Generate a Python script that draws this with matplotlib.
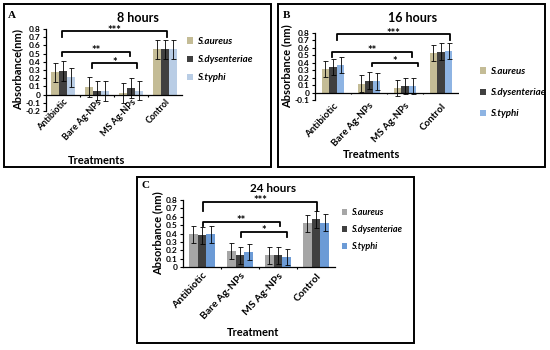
import matplotlib
matplotlib.use("Agg")
import matplotlib.pyplot as plt
from matplotlib.patches import Rectangle, Patch
import numpy as np

plt.rcParams['font.family'] = ['Lato', 'DejaVu Sans']

categories = ["Antibiotic", "Bare Ag-NPs", "MS Ag-NPs", "Control"]
series = ["S.aureus", "S.dysenteriae", "S.typhi"]

# 8 hours
a_aureus = [0.27, 0.09, 0.02, 0.55]
a_dys = [0.29, 0.05, 0.08, 0.55]
a_typhi = [0.21, 0.04, 0.05, 0.55]
a_err = [0.12, 0.12, 0.12, 0.12]

# 16 hours
b_aureus = [0.32, 0.12, 0.06, 0.53]
b_dys = [0.34, 0.16, 0.09, 0.55]
b_typhi = [0.37, 0.15, 0.09, 0.56]
b_err = [0.11, 0.11, 0.11, 0.11]

# 24 hours
c_aureus = [0.39, 0.19, 0.14, 0.52]
c_dys = [0.38, 0.14, 0.14, 0.57]
c_typhi = [0.39, 0.18, 0.12, 0.53]
c_err = [0.10, 0.10, 0.10, 0.10]

# significance brackets: (x_start, x_end, y_top, y_drop, label)
a_brackets = [(-0.03, 3.06, 0.77, 0.70, "***"), (-0.03, 1.97, 0.52, 0.47, "**"), (0.85, 2.18, 0.38, 0.32, "*")]
b_brackets = [(0.11, 3.25, 0.78, 0.70, "***"), (-0.03, 2.19, 0.55, 0.48, "**"), (1.08, 2.36, 0.40, 0.35, "*")]
c_brackets = [(0.03, 3.03, 0.78, 0.67, "***"), (0.03, 2.05, 0.54, 0.49, "**"), (1.03, 2.24, 0.42, 0.36, "*")]

W, H = 550, 350
fig = plt.figure(figsize=(W / 100, H / 100), dpi=100)


def fx(x):
    return x / W


def fy(y):
    return 1 - y / H


def frame(l, t, r, b):
    fig.patches.append(Rectangle((fx(l), fy(b)), fx(r - l), (b - t) / H, transform=fig.transFigure,
                                 fill=False, edgecolor='black', linewidth=1.4))


def panel(l, t, r, b, ylim, data, err, colors, width, ylabel, brackets, xfs, labels_at_zero, xpad):
    ax = fig.add_axes([fx(l), fy(b), fx(r - l), (b - t) / H])
    for s in ['top', 'right']:
        ax.spines[s].set_visible(False)
    ax.spines['left'].set_linewidth(0.9)
    if labels_at_zero:
        ax.spines['bottom'].set_position(('data', 0))
        ax.spines['bottom'].set_linewidth(0.9)
    else:
        ax.spines['bottom'].set_visible(False)
        ax.axhline(0, color='black', linewidth=0.9)
    x = np.arange(len(categories))
    handles = []
    for i, (vals, c) in enumerate(zip(data, colors)):
        ax.bar(x + (i - 1) * width, vals, width, color=c, yerr=err,
               error_kw=dict(ecolor='black', elinewidth=0.6, capsize=1.8, capthick=0.6))
        handles.append(Patch(facecolor=c, label=series[i]))
    ax.set_xlim(-0.5, len(categories) - 0.5)
    ax.set_ylim(*ylim)
    ticks = np.round(np.arange(ylim[0], ylim[1] + 0.001, 0.1), 1)
    ax.set_yticks(ticks)
    ax.set_yticklabels([f"{v:g}" if v != 0 else "0" for v in ticks], fontsize=6, fontweight='bold')
    ax.set_xticks(x)
    ax.set_xticklabels(categories, rotation=47, ha='right', rotation_mode='anchor',
                       fontsize=xfs, fontweight='bold')
    ax.tick_params(axis='x', length=0, pad=xpad)
    ax.tick_params(axis='y', length=2.5, width=0.8, pad=1.5)
    ax.vlines(x[:-1] + 0.5, 0, -0.025, color='black', linewidth=0.8, clip_on=False)
    ax.set_ylabel(ylabel, fontsize=8, fontweight='bold', labelpad=2)
    for (x1, x2, yt, yd, lab) in brackets:
        ax.plot([x1, x1, x2, x2], [yd, yt, yt, yd], color='black', linewidth=1.3, clip_on=False)
        ax.annotate(lab, xy=((x1 + x2) / 2, yt), xytext=(0, -1.5), textcoords='offset points',
                    ha='center', va='baseline', fontsize=8, fontweight='bold', annotation_clip=False)
    ax.set_facecolor('none')
    return ax, handles


def legend(handles, x, y, size, spacing):
    fig.legend(handles=handles, loc='upper left', bbox_to_anchor=(fx(x), fy(y)),
               bbox_transform=fig.transFigure, frameon=False,
               prop=dict(family='Lato', weight='bold', style='italic', size=size),
               handlelength=0.6, handleheight=0.6, handletextpad=0.4, labelspacing=spacing,
               borderpad=0, borderaxespad=0)


# Panel A
frame(4, 4, 271, 167)
axA, hA = panel(46, 29, 182, 111, (-0.2, 0.8), [a_aureus, a_dys, a_typhi], a_err,
                ['#C4BC96', '#404040', '#B9CDE5'], 0.23, "Absorbance(nm)", a_brackets, 6.5, True, 2)
legend(hA, 187, 37, 7, 0.95)
fig.text(fx(138), fy(18), "8 hours", ha='center', va='center', fontsize=9, fontweight='bold')
fig.text(fx(97), fy(161), "Treatments", ha='center', va='center', fontsize=8, fontweight='bold')
fig.text(fx(8), fy(15), "A", ha='left', va='center', fontsize=8, fontweight='bold', family='Liberation Serif')

# Panel B
frame(278, 4, 545, 167)
axB, hB = panel(315, 33, 459, 100, (-0.1, 0.8), [b_aureus, b_dys, b_typhi], b_err,
                ['#C4BC96', '#404040', '#8EB4E3'], 0.21, "Absorbance (nm)", b_brackets, 7, False, 1)
legend(hB, 480, 67, 7, 1.25)
fig.text(fx(413), fy(18), "16 hours", ha='center', va='center', fontsize=9, fontweight='bold')
fig.text(fx(372), fy(155), "Treatments", ha='center', va='center', fontsize=8, fontweight='bold')
fig.text(fx(283), fy(15), "B", ha='left', va='center', fontsize=8, fontweight='bold', family='Liberation Serif')

# Panel C
frame(137, 177, 414, 343)
axC, hC = panel(183, 200, 335, 267, (0, 0.8), [c_aureus, c_dys, c_typhi], c_err,
                ['#A6A6A6', '#404040', '#6C9BD6'], 0.235, "Absorbance (nm)", c_brackets, 7.5, True, 3)
legend(hC, 342, 208, 6.5, 0.9)
fig.text(fx(273), fy(188), "24 hours", ha='center', va='center', fontsize=8.5, fontweight='bold')
fig.text(fx(253), fy(333), "Treatment", ha='center', va='center', fontsize=8, fontweight='bold')
fig.text(fx(142), fy(185), "C", ha='left', va='center', fontsize=8, fontweight='bold', family='Liberation Serif')

fig.savefig("out.png", dpi=100, facecolor='white')
